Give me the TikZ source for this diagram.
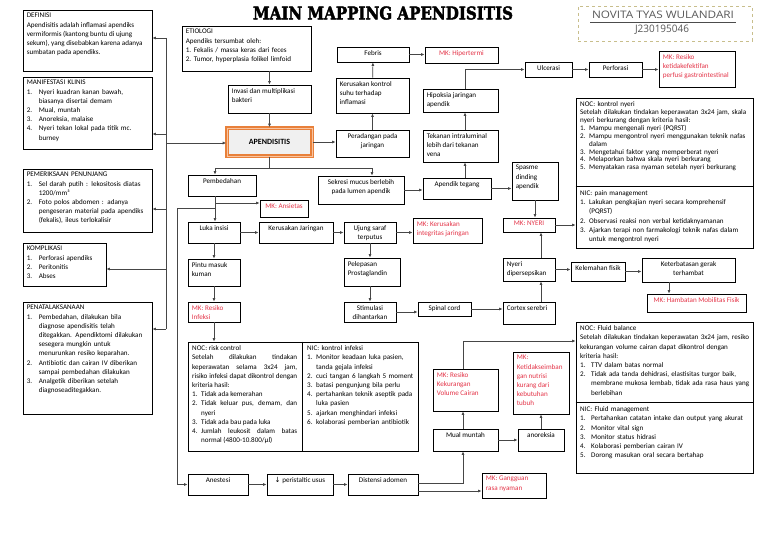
\documentclass[tikz,border=0pt]{standalone}
\usepackage{fontspec}
\usepackage{graphicx}
\setmainfont{Carlito}
\newfontfamily\titlefont{DejaVu Serif}[BoldFeatures={FakeBold=2.5}]
\newfontfamily\namefont{Open Sans}
\newfontfamily\symfont{DejaVu Sans}
\usetikzlibrary{arrows.meta,fit,calc}
\definecolor{mkred}{RGB}{228,52,72}
\definecolor{lnc}{RGB}{70,70,70}
\definecolor{apor}{RGB}{232,128,58}
\definecolor{apin}{RGB}{248,196,160}
\definecolor{dashc}{RGB}{200,190,140}
\newcommand\fs{\fontsize{7.1}{9.2}\selectfont\parindent=0pt}
\newcommand\fsn{\fontsize{7.1}{7.9}\selectfont\parindent=0pt}
\newcommand\li[3][9pt]{\par\hangindent=#1\hangafter=1\noindent\hbox to #1{#2\hfil}#3\par}
\tikzset{
 bx/.style={draw=black, line width=0.8pt, inner sep=0pt},
 tlx/.style={anchor=north west, inner sep=0pt, font=\fs, align=left},
 tcx/.style={anchor=north, inner sep=0pt, font=\fs, align=center},
 mk/.style={text=mkred},
 arr/.style={draw=lnc, line width=0.7pt, -{Latex[length=3.5pt,width=3pt]}},
 ln/.style={draw=lnc, line width=0.7pt},
}
\newcommand\bxx[5]{\node[bx,fit={(#2,-#3) (#4,-#5)}] (#1) {};}
\newcommand\TxL[3][]{\node[tlx,#1] (#2t) at ($(#2.north west)+(4,-3.5)$) {#3};}
\newcommand\TxC[3][]{\node[tcx,#1] (#2t) at ($(#2.north)+(0,-3.5)$) {#3};}
\begin{document}
\begin{tikzpicture}[x=1pt,y=1pt]
\useasboundingbox (0,0) rectangle (768,-543);
\fill[white] (0,0) rectangle (768,-543);
% title and name
\node (title) at (383,-13) {\resizebox{260pt}{13pt}{\titlefont\bfseries MAIN MAPPING APENDISITIS}};
\node[draw=dashc, dashed, line width=0.7pt, fit={(578,-6) (752,-41)}, inner sep=0pt] (namebox) {};
\node (name) at (663,-15) {\resizebox{142pt}{7.5pt}{\namefont\color{black!65}NOVITA TYAS WULANDARI}};
\draw[black!70, line width=0.6pt] (590,-22) -- (736,-22);
\node (nim) at (662,-30) {\resizebox{54pt}{7.5pt}{\namefont\color{black!65}J230195046}};
% left column
\bxx{defin}{23}{10}{152}{71}
\TxL{defin}{DEFINISI\\Apendisitis adalah inflamasi apendiks\\vermiformis (kantong buntu di ujung\\sekum), yang disebabkan karena adanya\\sumbatan pada apendiks.}
\bxx{manif}{23}{77}{152}{149}
\TxL[text width=123pt]{manif}{MANIFESTASI KLINIS
\li[12pt]{1.}{Nyeri kuadran kanan bawah,\newline biasanya disertai demam}
\li[12pt]{2.}{Mual, muntah}
\li[12pt]{3.}{Anoreksia, malaise}
\li[12pt]{4.}{Nyeri tekan lokal pada titik mc.\newline burney}}
\bxx{pemer}{23}{169}{152}{232}
\TxL[text width=123pt]{pemer}{PEMERIKSAAN PENUNJANG
\li[12pt]{1.}{Sel darah putih : lekositosis diatas\newline 1200/mm³}
\li[12pt]{2.}{Foto polos abdomen : adanya\newline pengeseran material pada apendiks\newline (fekalis), ileus terlokalisir}}
\bxx{kompl}{23}{243}{106}{286}
\TxL[text width=78pt]{kompl}{KOMPLIKASI
\li[12pt]{1.}{Perforasi apendiks}
\li[12pt]{2.}{Peritonitis}
\li[12pt]{3.}{Abses}}
\bxx{penat}{23}{302}{152}{414}
\TxL[text width=123pt]{penat}{PENATALAKSANAAN
\li[12pt]{1.}{Pembedahan, dilakukan bila\newline diagnose apendisitis telah\newline ditegakkan. Apendiktomi dilakukan\newline sesegera mungkin untuk\newline menurunkan resiko keparahan.}
\li[12pt]{2.}{Antibiotic dan cairan IV diberikan\newline sampai pembedahan dilakukan}
\li[12pt]{3.}{Analgetik diberikan setelah\newline diagnoseaditegakkan.}}
% top middle
\bxx{etio}{182}{26}{311}{71}
\TxL[text width=121pt]{etio}{ETIOLOGI\\Apendiks tersumbat oleh:
\li[8pt]{1.}{Fekalis / massa keras dari feces}
\li[8pt]{2.}{Tumor, hyperplasia folikel limfoid}}
\bxx{invasi}{228}{85}{311}{113}
\TxL{invasi}{Invasi dan multiplikasi\\bakteri}
\node[fit={(227,-128) (312,-156)}, inner sep=0pt, draw=apor, line width=1.6pt, double=apin, double distance=0.8pt, fill=gray!12] (apend) {};
\node[font=\fontsize{8}{9}\selectfont\bfseries] (apendt) at (apend) {APENDISITIS};
\bxx{febris}{337}{47}{409}{62}
\TxC{febris}{Febris}
\bxx{hiper}{425}{47}{498}{63}
\TxC[mk]{hiper}{MK: Hipertermi}
\bxx{kontrol}{336}{78}{409}{113}
\TxL{kontrol}{Kerusakan kontrol\\suhu terhadap\\inflamasi}
\bxx{perad}{336}{130}{409}{157}
\TxC{perad}{Peradangan pada\\jaringan}
\bxx{hipok}{423}{89}{498}{112}
\TxL{hipok}{Hipoksia jaringan\\apendik}
\bxx{tekan}{423}{130}{498}{162}
\TxL{tekan}{Tekanan intraluminal\\lebih dari tekanan\\vena}
\bxx{ulcer}{525}{62}{572}{77}
\TxC{ulcer}{Ulcerasi}
\bxx{perfor}{589}{62}{642}{77}
\TxC{perfor}{Perforasi}
\bxx{mkperf}{659}{51}{735}{87}
\TxL[mk]{mkperf}{MK: Resiko\\ketidakefektifan\\perfusi gastrointestinal}
% middle rows
\bxx{pemb}{188}{175}{256}{196}
\TxC{pemb}{Pembedahan}
\bxx{sekresi}{318}{176}{404}{204}
\TxC{sekresi}{Sekresi mucus berlebih\\pada lumen apendik}
\bxx{tegang}{423}{178}{491}{199}
\TxC{tegang}{Apendik tegang}
\bxx{spasme}{512}{162}{558}{200}
\TxL{spasme}{Spasme\\dinding\\apendik}
\bxx{nocn}{576}{98}{753}{248}
\draw[line width=0.8pt] ($(nocn.north west)+(0,-89)$) -- ($(nocn.north east)+(0,-89)$);
\node[tlx, font=\fsn, text width=170pt] (nocnt) at (580,-101.5) {NOC: kontrol nyeri\\Setelah dilakukan tindakan keperawatan 3x24 jam, skala\\nyeri berkurang dengan kriteria hasil:
\li{1.}{Mampu mengenali nyeri (PQRST)}
\li{2.}{Mampu mengontrol nyeri menggunakan teknik nafas\newline dalam}
\li{3.}{Mengetahui faktor yang memperberat nyeri}
\li{4.}{Melaporkan bahwa skala nyeri berkurang}
\li{5.}{Menyatakan rasa nyaman setelah nyeri berkurang}};
\node[tlx, text width=170pt] (nicnt) at (580,-190.5) {NIC: pain management
\li{1.}{Lakukan pengkajian nyeri secara komprehensif\newline (PQRST)}
\li{2.}{Observasi reaksi non verbal ketidaknyamanan}
\li{3.}{Ajarkan terapi non farmakologi teknik nafas dalam\newline untuk mengontrol nyeri}};
\bxx{ansiet}{260}{200}{308}{217}
\TxC[mk]{ansiet}{MK: Ansietas}
\bxx{luka}{188}{222}{240}{243}
\TxC{luka}{Luka insisi}
\bxx{kerja}{259}{222}{333}{243}
\TxC{kerja}{Kerusakan Jaringan}
\bxx{ujung}{344}{222}{396}{243}
\TxC{ujung}{Ujung saraf\\terputus}
\bxx{mkker}{413}{218}{482}{243}
\TxL[mk]{mkker}{MK: Kerusakan\\integritas jaringan}
\bxx{mknyeri}{503}{218}{555}{232}
\TxC[mk]{mknyeri}{MK: NYERI}
\bxx{pintu}{188}{259}{240}{286}
\TxL{pintu}{Pintu masuk\\kuman}
\bxx{pelep}{344}{258}{400}{286}
\TxL{pelep}{Pelepasan\\Prostaglandin}
\bxx{nyerid}{503}{258}{555}{281}
\TxL{nyerid}{Nyeri\\dipersepsikan}
\bxx{kelem}{571}{262}{625}{281}
\TxC{kelem}{Kelemahan fisik}
\bxx{keterb}{642}{258}{735}{282}
\TxC{keterb}{Keterbatasan gerak\\terhambat}
\bxx{mkhamb}{647}{294}{746}{312}
\TxC[mk]{mkhamb}{MK: Hambatan Mobilitas Fisik}
\bxx{mkinf}{188}{302}{240}{322}
\TxL[mk]{mkinf}{MK: Resiko\\Infeksi}
\bxx{stim}{344}{302}{396}{322}
\TxC{stim}{Stimulasi\\dihantarkan}
\bxx{spinal}{418}{302}{471}{316}
\TxC{spinal}{Spinal cord}
\bxx{cortex}{503}{302}{555}{324}
\TxL{cortex}{Cortex serebri}
% lower
\bxx{risk}{188}{342}{418}{451}
\draw[line width=0.8pt] ($(risk.north west)+(115,0)$) -- ($(risk.south west)+(115,0)$);
\node[tlx, text width=105pt, align=justify] (riskt) at (192,-345.5) {NOC: risk control\par
Setelah dilakukan tindakan\linebreak keperawatan selama 3x24 jam,\linebreak risiko infeksi dapat dikontrol dengan\linebreak kriteria hasil:
\li{1.}{Tidak ada kemerahan}
\li{2.}{Tidak keluar pus, demam, dan\linebreak nyeri}
\li{3.}{Tidak ada bau pada luka}
\li{4.}{Jumlah leukosit dalam batas\linebreak normal (4800-10.800/µl)}};
\node[tlx, text width=108pt] (infkt) at (307,-345.5) {NIC: kontrol infeksi
\li{1.}{Monitor keadaan luka pasien,\newline tanda gejala infeksi}
\li{2.}{cuci tangan 6 langkah 5 moment}
\li{3.}{batasi pengunjung bila perlu}
\li{4.}{pertahankan teknik aseptik pada\newline luka pasien}
\li{5.}{ajarkan menghindari infeksi}
\li{6.}{kolaborasi pemberian antibiotik}};
\bxx{fluid}{576}{322}{753}{473}
\draw[line width=0.8pt] ($(fluid.north west)+(0,-81)$) -- ($(fluid.north east)+(0,-81)$);
\node[tlx, text width=170pt] (fluidt) at (580,-325.5) {NOC: Fluid balance\\Setelah dilakukan tindakan keperawatan 3x24 jam, resiko\\kekurangan volume cairan dapat dikontrol dengan\\kriteria hasil:
\li[11pt]{1.}{TTV dalam batas normal}
\li[11pt]{2.}{Tidak ada tanda dehidrasi, elastisitas turgor baik,\newline membrane mukosa lembab, tidak ada rasa haus yang\newline berlebihan}};
\node[tlx, text width=170pt] (fmt) at (580,-406.5) {NIC: Fluid management
\li[11pt]{1.}{Pertahankan catatan intake dan output yang akurat}
\li[11pt]{2.}{Monitor vital sign}
\li[11pt]{3.}{Monitor status hidrasi}
\li[11pt]{4.}{Kolaborasi pemberian cairan IV}
\li[11pt]{5.}{Dorong masukan oral secara bertahap}};
\bxx{mkvol}{433}{369}{498}{411}
\TxL[mk]{mkvol}{MK: Resiko\\Kekurangan\\Volume Cairan}
\bxx{mkket}{513}{352}{569}{414}
\TxL[mk]{mkket}{MK:\\Ketidakseimban\\gan nutrisi\\kurang dari\\kebutuhan\\tubuh}
\bxx{mual}{433}{429}{498}{451}
\TxC{mual}{Mual muntah}
\bxx{anor}{518}{429}{564}{451}
\TxC{anor}{anoreksia}
\bxx{anest}{188}{474}{248}{495}
\TxC{anest}{Anestesi}
\bxx{peris}{267}{474}{333}{495}
\TxC{peris}{{\symfont ↓} peristaltic usus}
\bxx{disten}{348}{474}{418}{495}
\TxC{disten}{Distensi adomen}
\bxx{gangg}{482}{473}{546}{498}
\TxL[mk]{gangg}{MK: Gangguan\\rasa nyaman}
% helper coordinates
\coordinate (bT) at (166,-38);
\coordinate (b2) at (166,-134);
\coordinate (b3) at (166,-209);
\coordinate (b4) at (166,-269);
\coordinate (bB) at (166,-329);
\coordinate (bA) at (166,-143);
\coordinate (X215) at (215,0);
\coordinate (X372) at (372,0);
\coordinate (X465) at (465,0);
\coordinate (X541) at (541,0);
\coordinate (X463) at (463,0);
\coordinate (X669) at (669,0);
\coordinate (X177) at (177,0);
\coordinate (Y168) at (0,-168);
\coordinate (Y203) at (0,-203);
\coordinate (Y208) at (0,-208);
\coordinate (Y483) at (0,-483);
\coordinate (Y491) at (0,-491);
\coordinate (Y341) at (0,-341);
% connectors
\draw[ln] (bT) -- (bB);
\draw[arr] (bT) -- (defin.east |- bT);
\draw[arr] (b2) -- (manif.east |- b2);
\draw[arr] (b3) -- (pemer.east |- b3);
\draw[arr] (b4) -- (kompl.east |- b4);
\draw[arr] (bB) -- (penat.east |- bB);
\draw[arr] (bA) -- (apend.west |- bA);
\draw[arr] (invasi.north |- etio.south) -- (invasi.north);
\draw[arr] (invasi) -- (apend);
\draw[arr] (apend.east) -- (perad.west |- apend.east);
\draw[arr] (perad) -- (kontrol);
\draw[arr] (kontrol) -- (febris);
\draw[arr] (febris.east) -- (hiper.west |- febris.east);
\draw[ln] (apend.south) -- (apend.south |- Y168);
\draw[ln] (X215 |- Y168) -- (X372 |- Y168);
\draw[arr] (X215 |- Y168) -- (X215 |- pemb.north);
\draw[arr] (X372 |- Y168) -- (X372 |- sekresi.north);
\draw[arr] (sekresi.east) -- (tegang.west |- sekresi.east);
\draw[arr] (tegang.east) -- (spasme.west |- tegang.east);
\draw[arr] (X465 |- tegang.north) -- (X465 |- tekan.south);
\draw[arr] (X465 |- tekan.north) -- (X465 |- hipok.south);
\draw[arr] (X465 |- hipok.north) |- (ulcer.west);
\draw[arr] (ulcer) -- (perfor);
\draw[arr] (perfor.east) -- (mkperf.west |- perfor.east);
\draw[arr] (spasme.south) -- (mknyeri.north -| spasme.south);
\draw[arr] (mknyeri.east) -- (nocn.west |- mknyeri.east);
\draw[arr] (X215 |- pemb.south) -- (X215 |- luka.north);
\draw[arr] (X215 |- Y203) -- (ansiet.west |- Y203);
\draw[arr] (X215 |- Y208) -| (X177 |- anest.west) -- (anest.west);
\draw[arr] (luka) -- (kerja);
\draw[arr] (kerja) -- (ujung);
\draw[arr] (ujung.east) -- (mkker.west |- ujung.east);
\draw[arr] (luka) -- (pintu);
\draw[arr] (pintu) -- (mkinf);
\draw[arr] (mkinf.south) -- (mkinf.south |- risk.north);
\draw[arr] (ujung.south) -- (ujung.south |- pelep.north);
\draw[arr] (ujung.south |- pelep.south) -- (ujung.south |- stim.north);
\draw[arr] (stim.east) -- (spinal.west |- stim.east);
\draw[arr] (spinal.east) -- (cortex.west |- spinal.east);
\draw[arr] (X541 |- cortex.north) -- (X541 |- nyerid.south);
\draw[arr] (X541 |- nyerid.north) -- (X541 |- mknyeri.south);
\draw[arr] (nyerid.east) -- (kelem.west |- nyerid.east);
\draw[arr] (kelem.east) -- (keterb.west |- kelem.east);
\draw[arr] (X669 |- keterb.south) -- (X669 |- mkhamb.north);
\draw[arr] (anest) -- (peris);
\draw[arr] (peris) -- (disten);
\draw[arr] (disten.east |- Y483) -| (X463 |- mual.south);
\draw[arr] (disten.east |- Y491) -- (gangg.west |- Y491);
\draw[arr] (X463 |- mual.north) -- (X463 |- mkvol.south);
\draw[arr] (mual) -- (anor);
\draw[arr] (anor) -- (mkket);
\draw[arr] (X463 |- mkvol.north) |- (fluid.west |- Y341);
\end{tikzpicture}
\end{document}
